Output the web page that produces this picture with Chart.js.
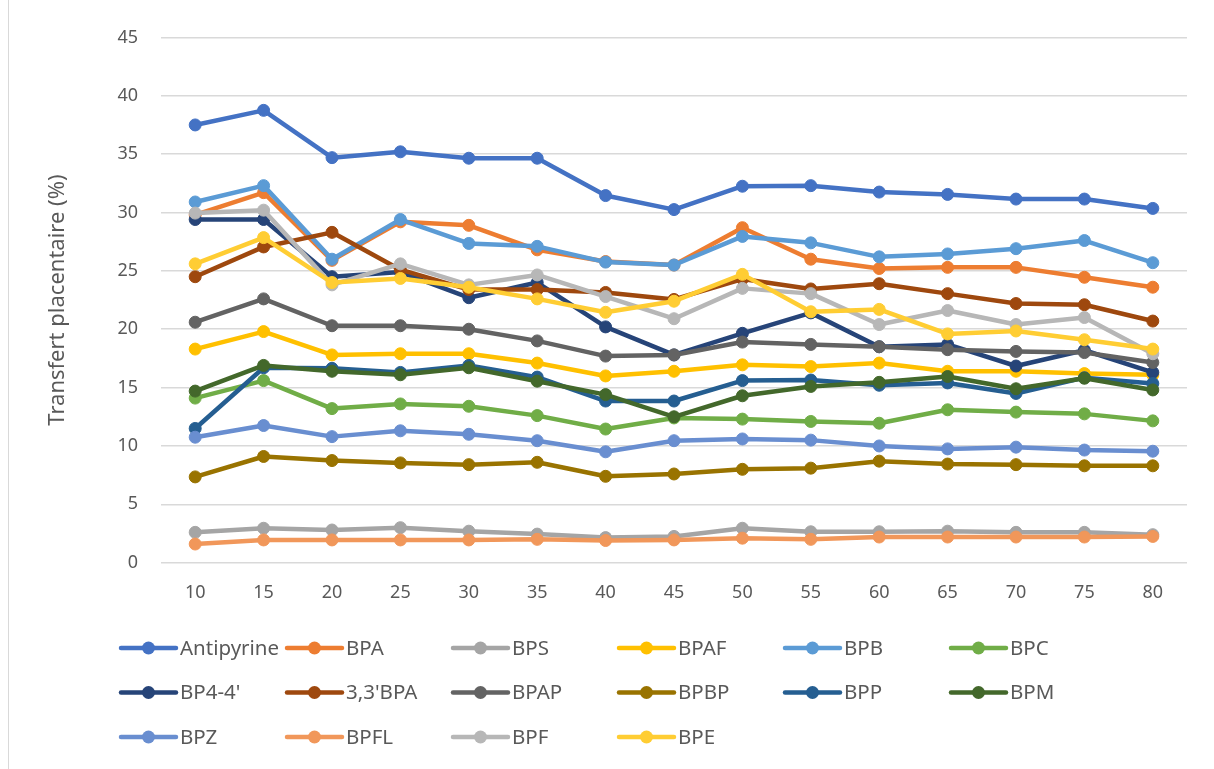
<!DOCTYPE html>
<html>
<head>
<meta charset="utf-8">
<script src="https://cdn.jsdelivr.net/npm/chart.js@4"></script>
<style>
  html, body { margin: 0; padding: 0; background: #fff; }
  #wrap { position: relative; width: 1214px; height: 769px; }
  #edge { position: absolute; left: 8px; top: 0; width: 1px; height: 769px; background: #d9d9d9; }
</style>
</head>
<body>
<div id="wrap">
  <canvas id="myChart" width="1214" height="769"></canvas>
  <div id="edge"></div>
</div>
<script>
const labels = ['10', '15', '20', '25', '30', '35', '40', '45', '50', '55', '60', '65', '70', '75', '80'];

const antipyrine = [37.5, 38.75, 34.7, 35.2, 34.65, 34.65, 31.45, 30.25, 32.25, 32.3, 31.75, 31.55, 31.15, 31.15, 30.35];
const bpa = [29.8, 31.7, 25.9, 29.2, 28.9, 26.8, 25.8, 25.5, 28.7, 26.0, 25.2, 25.3, 25.3, 24.45, 23.6];
const bps = [2.6, 2.95, 2.8, 3.0, 2.7, 2.45, 2.15, 2.25, 2.95, 2.65, 2.65, 2.7, 2.6, 2.6, 2.4];
const bpaf = [18.3, 19.8, 17.8, 17.9, 17.9, 17.1, 16.0, 16.4, 16.95, 16.8, 17.1, 16.4, 16.4, 16.2, 16.1];
const bpb = [30.9, 32.3, 26.0, 29.4, 27.35, 27.1, 25.75, 25.5, 27.95, 27.4, 26.2, 26.45, 26.9, 27.6, 25.7];
const bpc = [14.1, 15.6, 13.2, 13.6, 13.4, 12.6, 11.45, 12.4, 12.3, 12.1, 11.95, 13.1, 12.9, 12.75, 12.15];
const bp44 = [29.4, 29.4, 24.5, 24.9, 22.7, 24.0, 20.2, 17.8, 19.65, 21.4, 18.5, 18.7, 16.85, 18.2, 16.3];
const bpa33 = [24.5, 27.05, 28.3, 25.1, 23.4, 23.4, 23.15, 22.55, 24.3, 23.45, 23.9, 23.05, 22.2, 22.1, 20.7];
const bpap = [20.6, 22.6, 20.3, 20.3, 20.0, 19.0, 17.7, 17.8, 18.9, 18.7, 18.5, 18.25, 18.1, 18.0, 17.15];
const bpbp = [7.35, 9.1, 8.75, 8.55, 8.4, 8.6, 7.4, 7.6, 8.0, 8.1, 8.7, 8.45, 8.4, 8.3, 8.3];
const bpp = [11.5, 16.7, 16.65, 16.3, 16.9, 15.9, 13.85, 13.85, 15.6, 15.65, 15.2, 15.4, 14.5, 15.85, 15.35];
const bpm = [14.7, 16.9, 16.4, 16.1, 16.7, 15.55, 14.4, 12.5, 14.3, 15.1, 15.45, 15.95, 14.9, 15.8, 14.8];
const bpz = [10.75, 11.75, 10.8, 11.3, 11.0, 10.45, 9.5, 10.45, 10.6, 10.5, 10.0, 9.75, 9.9, 9.65, 9.55];
const bpfl = [1.6, 1.95, 1.95, 1.95, 1.95, 2.0, 1.9, 1.95, 2.1, 2.0, 2.2, 2.2, 2.2, 2.2, 2.25];
const bpf = [29.95, 30.2, 23.8, 25.6, 23.8, 24.65, 22.8, 20.9, 23.5, 23.05, 20.4, 21.6, 20.4, 21.0, 17.9];
const bpe = [25.6, 27.85, 24.0, 24.35, 23.6, 22.6, 21.45, 22.4, 24.7, 21.5, 21.7, 19.6, 19.85, 19.1, 18.3];

const seriesNames = ['Antipyrine', 'BPA', 'BPS', 'BPAF', 'BPB', 'BPC', "BP4-4'", "3,3'BPA", 'BPAP', 'BPBP', 'BPP', 'BPM', 'BPZ', 'BPFL', 'BPF', 'BPE'];
const seriesData = [antipyrine, bpa, bps, bpaf, bpb, bpc, bp44, bpa33, bpap, bpbp, bpp, bpm, bpz, bpfl, bpf, bpe];
const seriesColors = ['#4472C4', '#ED7D31', '#A5A5A5', '#FFC000', '#5B9BD5', '#70AD47', '#264478', '#9E480E',
  '#636363', '#997300', '#255E91', '#43682B', '#698ED0', '#F1975A', '#B7B7B7', '#FFCD33'];

const yTicks = [0, 5, 10, 15, 20, 25, 30, 35, 40, 45];

const textColor = '#595959';
const fontFamily = "'Noto Sans', 'Open Sans', sans-serif";

// Excel-like legend: fixed grid, line + dot marker
const gridLegend = {
  id: 'gridLegend',
  afterDraw(chart) {
    const ctx = chart.ctx;
    ctx.save();
    chart.data.datasets.forEach((ds, i) => {
      const col = i % 6;
      const row = Math.floor(i / 6);
      const x = 121 + col * 166;
      const y = 648 + row * 44.5;
      ctx.strokeStyle = ds.borderColor;
      ctx.lineWidth = 4.5;
      ctx.lineCap = 'round';
      ctx.beginPath();
      ctx.moveTo(x, y);
      ctx.lineTo(x + 55, y);
      ctx.stroke();
      ctx.fillStyle = ds.borderColor;
      ctx.beginPath();
      ctx.arc(x + 27.5, y, 6.5, 0, Math.PI * 2);
      ctx.fill();
      ctx.fillStyle = textColor;
      ctx.font = '20.5px ' + fontFamily;
      ctx.textBaseline = 'middle';
      ctx.textAlign = 'left';
      ctx.fillText(ds.label, x + 59, y + 1);
    });
    ctx.restore();
  }
};

const ctx = document.getElementById('myChart').getContext('2d');
const chart = new Chart(ctx, {
  type: 'line',
  data: {
    labels: labels,
    datasets: seriesNames.map((name, i) => ({
      label: name,
      data: seriesData[i],
      borderColor: seriesColors[i],
      backgroundColor: seriesColors[i],
      pointBackgroundColor: seriesColors[i],
      pointBorderColor: seriesColors[i],
      borderWidth: 4.5,
      pointRadius: 6,
      pointBorderWidth: 1,
      tension: 0,
      borderJoinStyle: 'round',
      borderCapStyle: 'round',
      order: -i
    }))
  },
  options: {
    responsive: false,
    animation: false,
    layout: { padding: { left: 40.8, right: 27, top: 37.4, bottom: 166.3 } },
    plugins: {
      legend: { display: false },
      tooltip: { enabled: false }
    },
    scales: {
      x: {
        offset: true,
        grid: { display: false, drawTicks: false },
        border: { display: false },
        ticks: { color: textColor, font: { family: fontFamily, size: 18 }, padding: 19, maxRotation: 0 },
        afterFit: scale => { scale.height = 40; }
      },
      y: {
        min: 0,
        max: 45,
        afterBuildTicks: scale => { scale.ticks = yTicks.map(v => ({ value: v })); },
        grid: { color: '#D9D9D9', lineWidth: 1.5, drawTicks: false },
        border: { display: false },
        ticks: { color: textColor, font: { family: fontFamily, size: 18 }, padding: 23 },
        title: {
          display: true,
          text: 'Transfert placentaire (%)',
          color: textColor,
          font: { family: fontFamily, size: 22 }
        },
        afterFit: scale => { scale.width = 120.2; }
      }
    }
  },
  plugins: [gridLegend]
});
</script>
</body>
</html>
